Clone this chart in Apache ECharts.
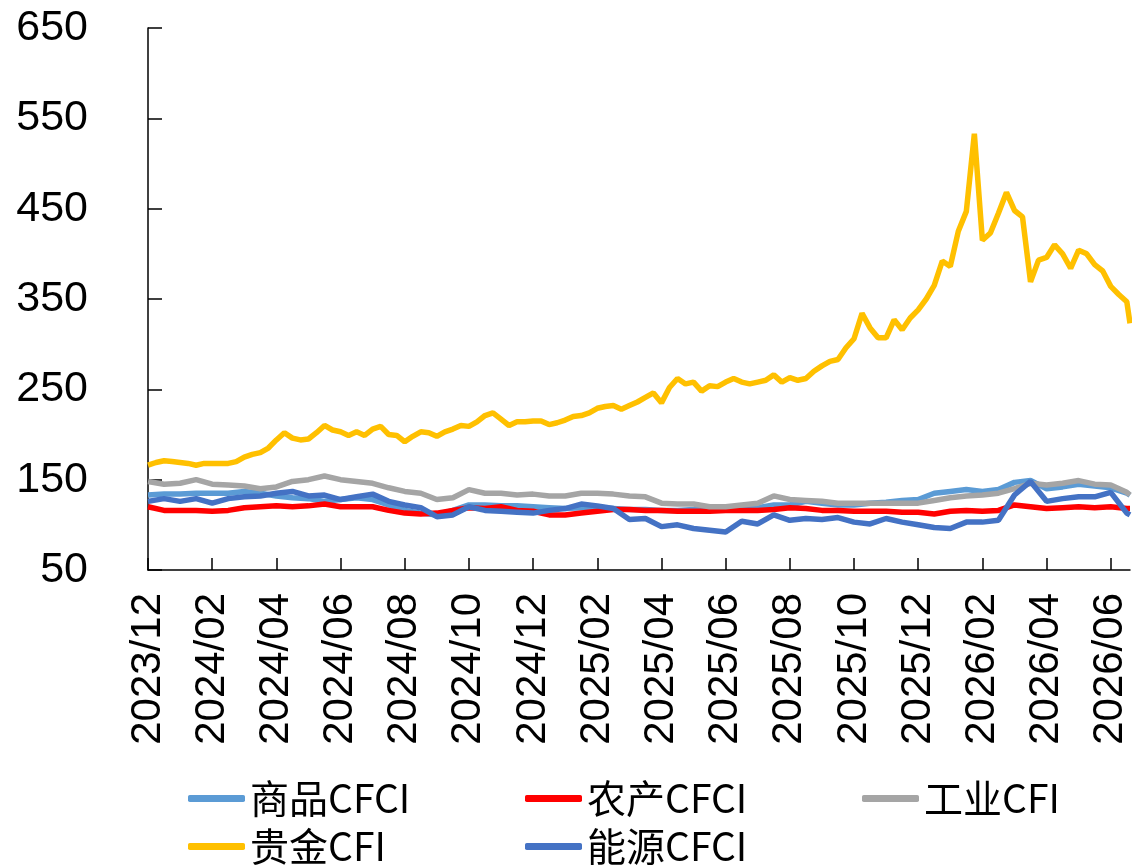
<!DOCTYPE html>
<html>
<head>
<meta charset="utf-8">
<title>CFCI</title>
<script src="https://cdn.jsdelivr.net/npm/echarts@6/dist/echarts.min.js"></script>
<style>
  html, body { margin: 0; padding: 0; background: #fff; }
  #chart { width: 1132px; height: 866px; }
</style>
</head>
<body>
<div id="chart"></div>
<script>
// x positions are months since 2023/12/01
const tickLabels = ['2023/12', '2024/02', '2024/04', '2024/06', '2024/08', '2024/10', '2024/12', '2025/02',
  '2025/04', '2025/06', '2025/08', '2025/10', '2025/12', '2026/02', '2026/04', '2026/06']
const tickMonths = tickLabels.map((_, i) => i * 2)
const lastMonth = 30.6

// gold is read every quarter month, the others every half month
const goldMonths = []
for (let m = 0; m <= 30.5; m += 0.25) goldMonths.push(m)
goldMonths.push(lastMonth)
const lowMonths = []
for (let m = 0; m <= 30.5; m += 0.5) lowMonths.push(m)
lowMonths.push(lastMonth)

const goldCFI = [
  166, 169, 171, 170, 169, 168, 166, 168, 168, 168,
  168, 170, 175, 178, 180, 185, 194, 202, 196, 194,
  195, 202, 210, 205, 203, 199, 203, 199, 206, 209,
  200, 199, 192, 198, 203, 202, 198, 203, 206, 210,
  209, 214, 221, 224, 217, 210, 214, 214, 215, 215,
  211, 213, 216, 220, 221, 224, 229, 231, 232, 228,
  232, 236, 241, 246, 235, 252, 262, 256, 258, 248,
  254, 253, 258, 262, 258, 256, 258, 260, 266, 258,
  263, 260, 262, 270, 276, 281, 283, 296, 306, 334,
  318, 307, 307, 327, 316, 329, 338, 350, 365, 392,
  386, 425, 447, 533, 415, 423, 445, 468, 448, 441,
  369, 393, 396, 410, 400, 384, 404, 400, 388, 381,
  364, 355, 347, 323
]
const industryCFI = [
  148, 145, 146, 150, 145, 144, 143, 140, 142, 148,
  150, 154, 150, 148, 146, 141, 137, 135, 128, 130,
  139, 135, 135, 133, 134, 132, 132, 135, 135, 134,
  132, 131, 124, 123, 123, 120, 120, 122, 124, 132,
  128, 127, 126, 124, 124, 124, 124, 124, 124, 127,
  130, 132, 133, 135, 140, 146, 144, 146, 149, 145,
  144, 136, 133
]
const commodityCFCI = [
  133, 134, 134, 135, 135, 135, 137, 135, 132, 130,
  129, 126, 128, 130, 128, 122, 116, 113, 111, 116,
  122, 122, 121, 121, 120, 119, 118, 119, 119, 118,
  117, 117, 116, 116, 117, 117, 118, 118, 119, 122,
  122, 126, 124, 122, 122, 124, 125, 127, 128, 135,
  137, 139, 137, 139, 147, 149, 140, 142, 145, 143,
  141, 135, 133
]
const energyCFCI = [
  126, 129, 126, 129, 124, 129, 131, 132, 135, 137,
  132, 133, 128, 131, 134, 126, 122, 119, 109, 111,
  120, 116, 115, 114, 113, 116, 118, 123, 121, 118,
  106, 107, 98, 100, 96, 94, 92, 104, 101, 111,
  105, 107, 106, 108, 103, 101, 107, 103, 100, 97,
  96, 103, 103, 105, 133, 148, 126, 129, 131, 131,
  136, 113, 111
]
const agriCFCI = [
  120, 116, 116, 116, 115, 116, 119, 120, 121, 120,
  121, 123, 120, 120, 120, 116, 113, 112, 113, 116,
  119, 118, 120, 116, 115, 111, 111, 113, 115, 117,
  117, 116, 116, 115, 115, 115, 116, 116, 116, 117,
  119, 118, 116, 116, 115, 115, 115, 114, 114, 112,
  115, 116, 115, 116, 122, 120, 118, 119, 120, 119,
  120, 118, 118
]

const pair = (xs, ys) => xs.map((x, i) => [x, ys[i]])

const chart = echarts.init(document.getElementById('chart'))
const fontLatin = 'Liberation Sans, Arial, sans-serif'
const fontCjk = 'Noto Sans CJK SC'

function lineSeries(name, months, values, color) {
  return {
    name: name,
    type: 'line',
    data: pair(months, values),
    showSymbol: false,
    symbol: 'none',
    lineStyle: { color: color, width: 5.5 },
    itemStyle: { color: color },
  }
}

function legendAt(name, left, top) {
  return {
    data: [name],
    left: left,
    top: top,
    icon: 'roundRect',
    itemWidth: 57,
    itemHeight: 7,
    padding: 0,
    textStyle: { fontSize: 39, fontFamily: fontCjk, color: '#000' },
  }
}

chart.setOption({
  animation: false,
  backgroundColor: '#fff',
  grid: { left: 148, right: 2, top: 28, bottom: 296 },
  legend: [
    legendAt('商品CFCI', 188, 779),
    legendAt('农产CFCI', 525, 779),
    legendAt('工业CFI', 862, 779),
    legendAt('贵金CFI', 188, 827),
    legendAt('能源CFCI', 525, 827),
  ],
  xAxis: {
    type: 'value',
    min: 0,
    max: lastMonth,
    splitLine: { show: false },
    axisLine: { show: true, lineStyle: { color: '#000', width: 1.5 } },
    axisTick: {
      show: true,
      inside: true,
      length: 12,
      customValues: tickMonths,
      lineStyle: { color: '#000', width: 1.5 },
    },
    axisLabel: {
      rotate: 90,
      margin: 23,
      customValues: tickMonths,
      fontSize: 42,
      fontFamily: fontLatin,
      color: '#000',
      formatter: v => tickLabels[Math.round(v / 2)] || '',
    },
  },
  yAxis: {
    type: 'value',
    min: 50,
    max: 650,
    interval: 100,
    splitLine: { show: false },
    axisLine: { show: true, lineStyle: { color: '#000', width: 1.5 } },
    axisTick: { show: true, inside: true, length: 14, lineStyle: { color: '#000', width: 1.5 } },
    axisLabel: { fontSize: 43, fontFamily: fontLatin, color: '#000', margin: 60 },
  },
  series: [
    lineSeries('商品CFCI', lowMonths, commodityCFCI, '#5B9BD5'),
    lineSeries('农产CFCI', lowMonths, agriCFCI, '#FF0000'),
    lineSeries('工业CFI', lowMonths, industryCFI, '#A5A5A5'),
    lineSeries('贵金CFI', goldMonths, goldCFI, '#FFC000'),
    lineSeries('能源CFCI', lowMonths, energyCFCI, '#4472C4'),
  ],
})
</script>
</body>
</html>
